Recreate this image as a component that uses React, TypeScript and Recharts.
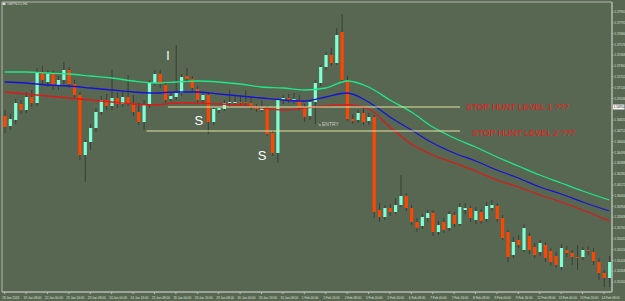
import {
  Bar,
  ComposedChart,
  Line,
  ReferenceArea,
  ReferenceDot,
  ReferenceLine,
  XAxis,
  YAxis,
} from 'recharts'

// H4 candles
const opens = [
  1.5686, 1.5676, 1.5682, 1.5698, 1.5692, 1.5705, 1.5699, 1.5730, 1.5720, 1.5728,
  1.5716, 1.5722, 1.5732, 1.5718, 1.5707, 1.5647, 1.5660, 1.5674, 1.5690, 1.5702,
  1.5696, 1.5704, 1.5698, 1.5705, 1.5699, 1.5690, 1.5680, 1.5698, 1.5719, 1.5728,
  1.5717, 1.5703, 1.5705, 1.5709, 1.5726, 1.5723, 1.5713, 1.5702, 1.5707, 1.5680,
  1.5692, 1.5693, 1.5699, 1.5699, 1.5700, 1.5700, 1.5699, 1.5695, 1.5692, 1.5694,
  1.5669, 1.5649, 1.5702, 1.5704, 1.5702, 1.5702, 1.5695, 1.5686, 1.5700, 1.5719,
  1.5735, 1.5747, 1.5739, 1.5770, 1.5722, 1.5683, 1.5682, 1.5689, 1.5681, 1.5685,
  1.5592, 1.5585, 1.5594, 1.5590, 1.5597, 1.5606, 1.5594, 1.5580, 1.5576, 1.5584,
  1.5589, 1.5570, 1.5580, 1.5574, 1.5587, 1.5578, 1.5592, 1.5594, 1.5582, 1.5590,
  1.5583, 1.5594, 1.5596, 1.5584, 1.5570, 1.5547, 1.5562, 1.5552, 1.5566, 1.5555,
  1.5550, 1.5557, 1.5551, 1.5546, 1.5535, 1.5552, 1.5549, 1.5545, 1.5545, 1.5552,
  1.5550, 1.5540, 1.5529, 1.5524,
]
const highs = [
  1.5692, 1.5688, 1.5703, 1.5702, 1.5710, 1.5712, 1.5734, 1.5736, 1.5732, 1.5731,
  1.5726, 1.5740, 1.5735, 1.5722, 1.5710, 1.5662, 1.5678, 1.5694, 1.5706, 1.5708,
  1.5732, 1.5710, 1.5712, 1.5727, 1.5707, 1.5699, 1.5702, 1.5722, 1.5732, 1.5732,
  1.5720, 1.5710, 1.5757, 1.5728, 1.5734, 1.5726, 1.5716, 1.5710, 1.5710, 1.5695,
  1.5696, 1.5702, 1.5712, 1.5707, 1.5706, 1.5712, 1.5704, 1.5698, 1.5702, 1.5697,
  1.5672, 1.5704, 1.5707, 1.5708, 1.5709, 1.5707, 1.5698, 1.5702, 1.5722, 1.5737,
  1.5750, 1.5754, 1.5774, 1.5788, 1.5726, 1.5688, 1.5692, 1.5694, 1.5689, 1.5687,
  1.5599, 1.5597, 1.5598, 1.5604, 1.5627, 1.5609, 1.5597, 1.5584, 1.5588, 1.5592,
  1.5592, 1.5581, 1.5584, 1.5591, 1.5590, 1.5599, 1.5599, 1.5596, 1.5595, 1.5593,
  1.5600, 1.5602, 1.5599, 1.5587, 1.5572, 1.5565, 1.5567, 1.5578, 1.5569, 1.5559,
  1.5562, 1.5560, 1.5554, 1.5550, 1.5558, 1.5556, 1.5552, 1.5557, 1.5555, 1.5556,
  1.5554, 1.5544, 1.5532, 1.5546,
]
const lows = [
  1.5669, 1.5672, 1.5678, 1.5688, 1.5689, 1.5695, 1.5696, 1.5718, 1.5715, 1.5712,
  1.5712, 1.5718, 1.5714, 1.5704, 1.5642, 1.5620, 1.5652, 1.5670, 1.5687, 1.5692,
  1.5692, 1.5694, 1.5695, 1.5696, 1.5686, 1.5677, 1.5672, 1.5694, 1.5716, 1.5714,
  1.5699, 1.5700, 1.5702, 1.5706, 1.5719, 1.5710, 1.5698, 1.5699, 1.5668, 1.5677,
  1.5689, 1.5691, 1.5695, 1.5696, 1.5696, 1.5695, 1.5692, 1.5690, 1.5690, 1.5666,
  1.5646, 1.5639, 1.5698, 1.5699, 1.5698, 1.5692, 1.5680, 1.5682, 1.5678, 1.5716,
  1.5732, 1.5736, 1.5737, 1.5720, 1.5681, 1.5678, 1.5679, 1.5677, 1.5677, 1.5584,
  1.5580, 1.5582, 1.5586, 1.5588, 1.5595, 1.5591, 1.5577, 1.5570, 1.5573, 1.5580,
  1.5566, 1.5567, 1.5569, 1.5571, 1.5575, 1.5576, 1.5588, 1.5580, 1.5578, 1.5578,
  1.5580, 1.5591, 1.5580, 1.5562, 1.5540, 1.5544, 1.5554, 1.5550, 1.5548, 1.5544,
  1.5546, 1.5540, 1.5536, 1.5534, 1.5532, 1.5545, 1.5537, 1.5532, 1.5542, 1.5547,
  1.5537, 1.5522, 1.5515, 1.5515,
]
const closes = [
  1.5675, 1.5683, 1.5699, 1.5692, 1.5705, 1.5699, 1.5730, 1.5722, 1.5728, 1.5716,
  1.5722, 1.5732, 1.5718, 1.5707, 1.5647, 1.5660, 1.5674, 1.5690, 1.5702, 1.5696,
  1.5704, 1.5698, 1.5705, 1.5699, 1.5690, 1.5680, 1.5697, 1.5719, 1.5728, 1.5718,
  1.5702, 1.5706, 1.5709, 1.5725, 1.5723, 1.5714, 1.5702, 1.5707, 1.5680, 1.5693,
  1.5694, 1.5699, 1.5700, 1.5700, 1.5699, 1.5699, 1.5695, 1.5693, 1.5695, 1.5668,
  1.5649, 1.5702, 1.5704, 1.5702, 1.5703, 1.5695, 1.5685, 1.5700, 1.5719, 1.5735,
  1.5747, 1.5739, 1.5767, 1.5722, 1.5683, 1.5681, 1.5689, 1.5680, 1.5685, 1.5590,
  1.5585, 1.5594, 1.5590, 1.5597, 1.5606, 1.5594, 1.5580, 1.5574, 1.5585, 1.5589,
  1.5570, 1.5577, 1.5572, 1.5588, 1.5578, 1.5595, 1.5594, 1.5584, 1.5591, 1.5581,
  1.5596, 1.5597, 1.5583, 1.5564, 1.5545, 1.5560, 1.5557, 1.5574, 1.5552, 1.5547,
  1.5559, 1.5544, 1.5540, 1.5537, 1.5554, 1.5549, 1.5545, 1.5544, 1.5552, 1.5551,
  1.5541, 1.5529, 1.5524, 1.5540,
]

// moving averages, read at every 4th bar
const maIndex = [0, 4, 8, 12, 16, 20, 24, 28, 32, 36, 40, 44, 48, 52, 56, 60, 64, 68, 72, 76, 80, 84, 88, 92, 96, 100, 104, 108, 113]
const maGreen = [1.5730, 1.5730, 1.5729, 1.5728, 1.5726, 1.5724, 1.5721, 1.5719, 1.5720, 1.5721, 1.5720, 1.5718, 1.5715, 1.5714, 1.5712, 1.5714, 1.5721, 1.5715, 1.5702, 1.5690, 1.5675, 1.5664, 1.5655, 1.5645, 1.5636, 1.5627, 1.5619, 1.5611, 1.5602]
const maBlue = [1.5720, 1.5719, 1.5717, 1.5716, 1.5714, 1.5712, 1.5710, 1.5709, 1.5710, 1.5710, 1.5708, 1.5706, 1.5704, 1.5702, 1.5701, 1.5705, 1.5709, 1.5700, 1.5685, 1.5672, 1.5659, 1.5649, 1.5641, 1.5632, 1.5624, 1.5615, 1.5608, 1.5600, 1.5591]
const maRed = [1.5710, 1.5708, 1.5706, 1.5704, 1.5702, 1.5700, 1.5698, 1.5697, 1.5699, 1.5699, 1.5698, 1.5697, 1.5694, 1.5692, 1.5694, 1.5696, 1.5697, 1.5693, 1.5675, 1.5658, 1.5647, 1.5639, 1.5631, 1.5622, 1.5615, 1.5607, 1.5600, 1.5592, 1.5581]

const timeLabels = [
  '18 Jan 2018', '19 Jan 08:00', '22 Jan 00:00', '22 Jan 16:00', '23 Jan 08:00', '24 Jan 00:00',
  '24 Jan 16:00', '25 Jan 08:00', '26 Jan 00:00', '26 Jan 16:00', '29 Jan 08:00', '30 Jan 00:00',
  '30 Jan 16:00', '31 Jan 08:00', '1 Feb 00:00', '1 Feb 16:00', '2 Feb 08:00', '5 Feb 00:00',
  '5 Feb 16:00', '6 Feb 08:00', '7 Feb 00:00', '7 Feb 16:00', '8 Feb 08:00', '9 Feb 00:00',
  '9 Feb 16:00', '12 Feb 08:00', '13 Feb 00:00', '13 Feb 16:00', '14 Feb 08:00',
]
const timeTickIdx = timeLabels.map((_, k) => k * 4)

// the tick under the highlighted price box is hidden, as in the terminal
const priceTicks = [
  1.579, 1.57792, 1.57684, 1.57576, 1.57468, 1.5736, 1.57252, 1.57144, 1.57036,
  1.5682, 1.56712, 1.56604, 1.56496, 1.56388, 1.5628, 1.56172, 1.56064, 1.55956, 1.55848,
  1.5574, 1.55632, 1.55524, 1.55416, 1.55308, 1.552,
]

const level1 = 1.5695
const level2 = 1.5671

const BG = '#586752'
const AXIS = '#b4bab0'
const AXIS_TEXT = '#dde2d8'
const BULL = '#7fffd4'
const BEAR = '#ff4500'
const WICK = '#3a3f38'
const LEVEL = '#e2e4a4'

const rows = opens.map((o, i) => {
  const k = maIndex.indexOf(i)
  return {
    i,
    o,
    h: highs[i],
    l: lows[i],
    c: closes[i],
    range: [lows[i], highs[i]],
    g: k >= 0 ? maGreen[k] : null,
    b: k >= 0 ? maBlue[k] : null,
    r: k >= 0 ? maRed[k] : null,
  }
})

function Candle(props: any) {
  const { x, y, width, height, payload } = props
  if (!payload) return null
  const { o, h, l, c } = payload
  const top = Math.min(y, y + height)
  const span = Math.abs(height)
  const k = h > l ? span / (h - l) : 0
  const cx = x + width / 2
  const yOf = (v: number) => top + (h - v) * k
  const bodyTop = yOf(Math.max(o, c))
  const bodyH = Math.max(1, yOf(Math.min(o, c)) - bodyTop)
  return (
    <g>
      <line x1={cx} x2={cx} y1={top} y2={top + span} stroke={WICK} strokeWidth={1} />
      <rect x={cx - 1.6} y={bodyTop} width={3.2} height={bodyH} fill={c >= o ? BULL : BEAR} />
    </g>
  )
}

function TimeTick(props: any) {
  const { x, y, payload } = props
  const label = timeLabels[Math.round(payload.value / 4)]
  return (
    <text x={x - 2.5} y={y + 2.6} textAnchor="start" fontSize={3.1} fill={AXIS_TEXT} fontFamily="Liberation Sans">
      {label}
    </text>
  )
}

const note = (text: string, color: string, size: number, anchor: 'start' | 'middle' = 'middle') =>
  (p: any) => {
    const vb = p.viewBox
    return (
      <text
        x={vb.x + vb.width / 2}
        y={vb.y + vb.height / 2}
        dy="0.35em"
        textAnchor={anchor}
        fill={color}
        fontSize={size}
        fontFamily="Liberation Sans"
      >
        {text}
      </text>
    )
  }

const priceBox = (p: any) => {
  const vb = p.viewBox
  const x = vb.x + vb.width + 1
  return (
    <g>
      <rect x={x} y={vb.y - 2.5} width={11.5} height={5} fill="#f4f4f4" />
      <text x={x + 0.6} y={vb.y} dy="0.35em" fontSize={3.1} fill="#333" fontFamily="Liberation Sans">
        {level1.toFixed(5)}
      </text>
    </g>
  )
}

export default function App() {
  return (
    <div style={{ position: 'absolute', left: 0, top: 0, width: 625, height: 301, background: BG }}>
      <svg style={{ position: 'absolute', left: 0, top: 0 }} width={80} height={8}>
        <rect x={2.5} y={2.5} width={3} height={2.5} fill="#d8dcd4" />
        <text x={7} y={5} fontSize={3.6} fill="#d8dcd4" fontFamily="Liberation Sans">
          GBPNZD,H4
        </text>
      </svg>
      <ComposedChart width={625} height={301} data={rows} margin={{ top: 2, right: 0, bottom: 0, left: 2 }}>
        <XAxis
          type="number"
          dataKey="i"
          domain={[-0.5, 113.5]}
          ticks={timeTickIdx}
          interval={0}
          height={9}
          tickSize={2}
          tick={<TimeTick />}
          axisLine={{ stroke: AXIS }}
          tickLine={{ stroke: AXIS }}
          allowDataOverflow
        />
        <YAxis
          orientation="right"
          type="number"
          domain={[1.551, 1.58]}
          ticks={priceTicks}
          interval={0}
          width={13}
          tickSize={1.5}
          tickMargin={0.8}
          tickFormatter={(v: number) => v.toFixed(5)}
          tick={{ fontSize: 3.1, fill: AXIS_TEXT, fontFamily: 'Liberation Sans' }}
          axisLine={{ stroke: AXIS }}
          tickLine={{ stroke: AXIS }}
          allowDataOverflow
        />
        <ReferenceArea x1={-0.5} x2={113.5} y1={1.551} y2={1.58} fill="none" stroke={AXIS} strokeWidth={1} />
        <Line type="monotone" dataKey="g" stroke="#1ee88a" strokeWidth={1.3} dot={false} connectNulls isAnimationActive={false} />
        <Line type="monotone" dataKey="b" stroke="#1414d8" strokeWidth={1.3} dot={false} connectNulls isAnimationActive={false} />
        <Line type="monotone" dataKey="r" stroke="#e01818" strokeWidth={1.3} dot={false} connectNulls isAnimationActive={false} />
        <Bar dataKey="range" shape={<Candle />} barSize={4} isAnimationActive={false} />
        <ReferenceLine segment={[{ x: 30.5, y: level1 }, { x: 85.1, y: level1 }]} stroke={LEVEL} strokeWidth={1} />
        <ReferenceLine segment={[{ x: 26.5, y: level2 }, { x: 85.1, y: level2 }]} stroke={LEVEL} strokeWidth={1} />
        <ReferenceLine y={level1} stroke="none" label={priceBox} />
        <ReferenceDot x={86.2} y={1.5695} r={0} fill="none" stroke="none" label={note('STOP HUNT LEVEL 1 ???', '#f01818', 8.7, 'start')} />
        <ReferenceDot x={87.35} y={1.5669} r={0} fill="none" stroke="none" label={note('STOP HUNT LEVEL 2 ???', '#f01818', 8.7, 'start')} />
        <ReferenceDot x={30.5} y={1.5746} r={0} fill="none" stroke="none" label={note('I', '#ffffff', 12)} />
        <ReferenceDot x={36.3} y={1.5682} r={0} fill="none" stroke="none" label={note('S', '#ffffff', 13)} />
        <ReferenceDot x={48.1} y={1.5647} r={0} fill="none" stroke="none" label={note('S', '#ffffff', 13)} />
        <ReferenceDot x={58.3} y={1.5678} r={0} fill="none" stroke="none" label={note('↘ ENTRY', '#c8ccc4', 5, 'start')} />
      </ComposedChart>
    </div>
  )
}
